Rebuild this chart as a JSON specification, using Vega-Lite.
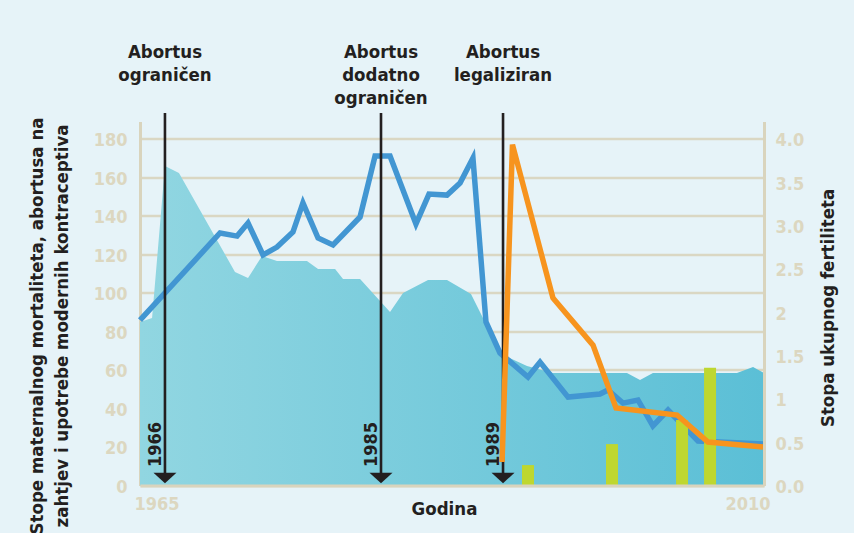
{
  "$schema": "https://vega.github.io/schema/vega-lite/v6.json",
  "autosize": {"type": "none"},
  "width": 624,
  "height": 364,
  "padding": {"left": 140, "top": 121.5, "right": 90, "bottom": 47.5},
  "background": "#e6f3f8",
  "config": {
    "view": {"stroke": null},
    "font": "DejaVu Sans Condensed, DejaVu Sans, sans-serif",
    "axis": {
      "labelFont": "DejaVu Sans Condensed, DejaVu Sans, sans-serif",
      "titleFont": "DejaVu Sans Condensed, DejaVu Sans, sans-serif",
      "labelFontWeight": "bold",
      "titleFontWeight": "bold",
      "labelColor": "#dcd7c0",
      "labelFontSize": 18,
      "titleFontSize": 18.5,
      "titleColor": "#231f20",
      "domainColor": "#d9d4bd",
      "domainWidth": 3,
      "gridColor": "#dad7c3",
      "gridWidth": 2.5,
      "ticks": false,
      "tickSize": 0
    }
  },
  "datasets": {
    "fert": [
      {"year": 1965, "rate": 1.886}, {"year": 1965.87, "rate": 1.933}, {"year": 1966.8, "rate": 3.686},
      {"year": 1967.81, "rate": 3.606}, {"year": 1971.85, "rate": 2.464}, {"year": 1972.79, "rate": 2.394},
      {"year": 1973.8, "rate": 2.648}, {"year": 1974.88, "rate": 2.59}, {"year": 1977.04, "rate": 2.59},
      {"year": 1977.84, "rate": 2.498}, {"year": 1979.07, "rate": 2.498}, {"year": 1979.64, "rate": 2.383},
      {"year": 1980.87, "rate": 2.383}, {"year": 1983.03, "rate": 2.002}, {"year": 1983.97, "rate": 2.221},
      {"year": 1985.77, "rate": 2.371}, {"year": 1987.14, "rate": 2.371}, {"year": 1988.87, "rate": 2.21},
      {"year": 1991.03, "rate": 1.517}, {"year": 1992.91, "rate": 1.379}, {"year": 1994.78, "rate": 1.298},
      {"year": 2000.12, "rate": 1.298}, {"year": 2001.06, "rate": 1.217}, {"year": 2001.99, "rate": 1.298},
      {"year": 2008.05, "rate": 1.298}, {"year": 2009.21, "rate": 1.367}, {"year": 2010, "rate": 1.298}
    ],
    "mmr": [
      {"year": 1965, "v": 85.9}, {"year": 1970.77, "v": 131.1}, {"year": 1972.0, "v": 129.5},
      {"year": 1972.79, "v": 136.3}, {"year": 1973.87, "v": 119.7}, {"year": 1974.88, "v": 123.8},
      {"year": 1976.03, "v": 131.6}, {"year": 1976.75, "v": 146.7}, {"year": 1977.84, "v": 128.5},
      {"year": 1978.92, "v": 124.9}, {"year": 1980.87, "v": 139.4}, {"year": 1981.95, "v": 171.1},
      {"year": 1983.03, "v": 171.1}, {"year": 1984.9, "v": 135.8}, {"year": 1985.84, "v": 151.3},
      {"year": 1987.14, "v": 150.8}, {"year": 1988.08, "v": 157.1}, {"year": 1989.01, "v": 170.0},
      {"year": 1989.95, "v": 84.9}, {"year": 1990.96, "v": 68.8}, {"year": 1992.98, "v": 56.3},
      {"year": 1993.85, "v": 64.1}, {"year": 1995.87, "v": 45.9}, {"year": 1998.17, "v": 47.5},
      {"year": 1998.75, "v": 49.6}, {"year": 1999.83, "v": 42.8}, {"year": 2000.91, "v": 44.4},
      {"year": 2001.99, "v": 30.9}, {"year": 2003.08, "v": 39.2}, {"year": 2005.24, "v": 23.1},
      {"year": 2009.93, "v": 21.5}
    ],
    "abort": [
      {"year": 1991.11, "v": 12.2}, {"year": 1991.86, "v": 177}, {"year": 1994.78, "v": 97.4},
      {"year": 1997.67, "v": 72.9}, {"year": 1999.33, "v": 40.2}, {"year": 2003.73, "v": 36.6},
      {"year": 2005.96, "v": 22.6}, {"year": 2009.93, "v": 20}
    ],
    "contra": [
      {"year": 1992.98, "v": 10.6}, {"year": 1999.04, "v": 21.5},
      {"year": 2004.09, "v": 34}, {"year": 2006.11, "v": 61.2}
    ],
    "events": [
      {"year": 1966.8, "label": "1966", "event": "Abortus|ograničen"},
      {"year": 1982.38, "label": "1985", "event": "Abortus|dodatno|ograničen"},
      {"year": 1991.18, "label": "1989", "event": "Abortus|legaliziran"}
    ]
  },
  "encoding": {
    "x": {
      "field": "year",
      "type": "quantitative",
      "scale": {"domain": [1965, 2010], "nice": false, "zero": false, "padding": 0},
      "axis": {
        "values": [1965, 2010],
        "format": "d",
        "grid": false,
        "title": "Godina",
        "labelFlush": true,
        "labelFlushOffset": 6,
        "labelPadding": 10,
        "titleX": 304,
        "titleY": 29,
        "titleBaseline": "alphabetic",
        "titleAlign": "center",
        "zindex": 1
      }
    }
  },
  "layer": [
    {
      "data": {"name": "fert"},
      "mark": {
        "type": "area",
        "opacity": 1,
        "color": {
          "gradient": "linear",
          "x1": 0, "y1": 0, "x2": 1, "y2": 0,
          "stops": [
            {"offset": 0, "color": "#91d6e1"},
            {"offset": 1, "color": "#5bbfd6"}
          ]
        }
      },
      "encoding": {
        "y": {
          "field": "rate",
          "type": "quantitative",
          "scale": {"domain": [0, 4.2], "nice": false},
          "axis": {
            "orient": "right",
            "values": [0, 0.5, 1, 1.5, 2, 2.5, 3, 3.5, 4],
            "labelExpr": "datum.value == 2 || datum.value == 1 ? format(datum.value, 'd') : format(datum.value, '.1f')",
            "grid": false,
            "title": "Stopa ukupnog fertiliteta",
            "titleAngle": 270,
            "titleBaseline": "bottom",
            "titleAlign": "center",
            "titleX": 73,
            "titleY": 186,
            "labelAlign": "left",
            "labelPadding": 11,
            "labelOffset": 2,
            "zindex": 1
          }
        }
      }
    },
    {
      "data": {"name": "mmr"},
      "mark": {"type": "line", "color": "#4296d2", "strokeWidth": 5.5},
      "encoding": {
        "y": {
          "field": "v",
          "type": "quantitative",
          "scale": {"domain": [0, 189], "nice": false},
          "axis": {
            "orient": "left",
            "values": [0, 20, 40, 60, 80, 100, 120, 140, 160, 180],
            "grid": true,
            "title": ["Stope maternalnog mortaliteta, abortusa na", "zahtjev i upotrebe modernih kontraceptiva"],
            "titleAngle": 270,
            "titleBaseline": "bottom",
            "titleAlign": "center",
            "titleLineHeight": 25,
            "titleX": -94,
            "titleY": 204,
            "labelPadding": 13,
            "labelOffset": 2
          }
        }
      }
    },
    {
      "data": {"name": "contra"},
      "mark": {"type": "bar", "color": "#bed730", "size": 12},
      "encoding": {
        "y": {"field": "v", "type": "quantitative", "scale": {"domain": [0, 189], "nice": false}, "axis": null}
      }
    },
    {
      "data": {"name": "events"},
      "mark": {"type": "rule", "color": "#231f20", "strokeWidth": 2.6},
      "encoding": {
        "y": {"datum": 193.4, "type": "quantitative", "scale": {"domain": [0, 189], "nice": false}, "axis": null},
        "y2": {"datum": 5}
      }
    },
    {
      "data": {"name": "events"},
      "mark": {"type": "point", "shape": "M-1,-0.46L1,-0.46L0,0.46Z", "size": 529, "filled": true, "opacity": 1, "color": "#231f20"},
      "encoding": {
        "y": {"datum": 3.9, "type": "quantitative", "scale": {"domain": [0, 189], "nice": false}, "axis": null}
      }
    },
    {
      "data": {"name": "events"},
      "mark": {"type": "text", "angle": 270, "align": "left", "baseline": "alphabetic", "dy": -4, "fontSize": 18, "fontWeight": "bold", "color": "#231f20"},
      "encoding": {
        "y": {"datum": 9.6, "type": "quantitative", "scale": {"domain": [0, 189], "nice": false}, "axis": null},
        "text": {"field": "label", "type": "nominal"}
      }
    },
    {
      "data": {"name": "events"},
      "mark": {"type": "text", "align": "center", "baseline": "middle", "lineBreak": "|", "lineHeight": 23, "fontSize": 18.5, "fontWeight": "bold", "color": "#231f20"},
      "encoding": {
        "y": {"datum": 225, "type": "quantitative", "scale": {"domain": [0, 189], "nice": false}, "axis": null},
        "text": {"field": "event", "type": "nominal"}
      }
    },
    {
      "data": {"name": "abort"},
      "mark": {"type": "line", "color": "#f7941e", "strokeWidth": 5.5},
      "encoding": {
        "y": {"field": "v", "type": "quantitative", "scale": {"domain": [0, 189], "nice": false}, "axis": null}
      }
    }
  ],
  "resolve": {"scale": {"y": "independent"}}
}
